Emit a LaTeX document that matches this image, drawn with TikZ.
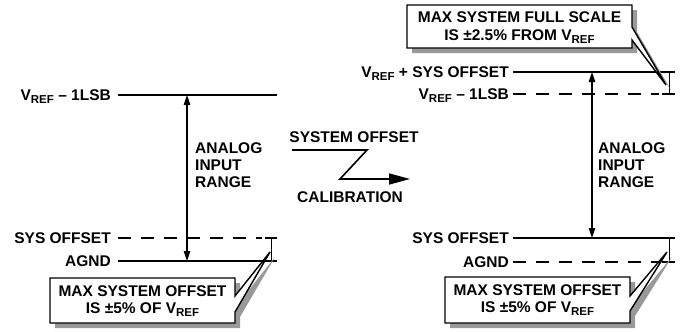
\documentclass[tikz,border=0pt]{standalone}
\usepackage{fontspec}
\setmainfont{Liberation Sans}
\usetikzlibrary{arrows.meta}
\newcommand\refsub{\raisebox{-0.4ex}{\fontsize{11.5}{12}\selectfont REF}}
\begin{document}
\begin{tikzpicture}[x=1pt,y=-1pt,
  font=\fontsize{15.5}{17}\selectfont\bfseries,
  lbl/.style={anchor=base east, inner sep=0pt},
  txt/.style={anchor=west, align=left, inner sep=0pt},
  level/.style={line width=1.9pt},
  dlevel/.style={line width=1.9pt, dash pattern=on 13pt off 10pt},
  capline/.style={line width=1.2pt},
  bracket/.style={line width=1pt},
  rangearrow/.style={line width=1.1pt, {Triangle[length=10pt,width=6.5pt]}-{Triangle[length=10pt,width=6.5pt]}},
  zarrow/.style={line width=1.6pt, -{Triangle[length=21pt,width=11pt]}},
  callout/.style={draw, line width=1.4pt, fill=white, line join=miter},
  shadow/.style={fill=black!40, draw=none},
  boxtext/.style={align=center, inner sep=0pt, font=\fontsize{15.5}{17.5}\selectfont\bfseries}]
\useasboundingbox (0,0) rectangle (683,332);

% ---------------- left diagram ----------------
\node[lbl] (lvref) at (111,100) {V\refsub\ – 1LSB};
\coordinate (lvrefA) at (118,95);
\coordinate (lvrefB) at (277,95);
\draw[level] (lvrefA) -- (lvrefB);

\node[lbl] (lsys) at (111,243) {SYS OFFSET};
\coordinate (lsysA) at (118,238);
\coordinate (lsysB) at (262,238);
\coordinate (lsysC) at (265,238);
\coordinate (lsysD) at (277,238);
\draw[dlevel] (lsysA) -- (lsysB);
\draw[capline] (lsysC) -- (lsysD);

\node[lbl] (lagnd) at (111,266) {AGND};
\coordinate (lagndA) at (118,261);
\coordinate (lagndB) at (277,261);
\draw[level] (lagndA) -- (lagndB);

\coordinate (lbrT) at (271,238);
\coordinate (lbrB) at (271,261);
\draw[bracket] (lbrT) -- (lbrB);

\coordinate (larT) at (187,95);
\coordinate (larB) at (187,261);
\draw[rangearrow] (larT) -- (larB);
\node[txt] (lrange) at (195,165) {ANALOG\\INPUT\\RANGE};

% left callout
\begin{scope}[shift={(5,5)}]
\fill[shadow] (50,278) -- (235,278) -- (235,296) -- (270,252) -- (235,312) -- (235,323) -- (50,323) -- cycle;
\end{scope}
\draw[callout] (50,278) -- (235,278) -- (235,296) -- (270,252) -- (235,312) -- (235,323) -- (50,323) -- cycle;
\node[boxtext] (lbox) at (142.5,301) {MAX SYSTEM OFFSET\\IS ±5\% OF V\refsub};

% ---------------- middle ----------------
\node[inner sep=0pt] (msys) at (354,137) {SYSTEM OFFSET};
\node[inner sep=0pt] (mcal) at (350,197) {CALIBRATION};
\coordinate (z1) at (292,150);
\coordinate (z2) at (367,150);
\coordinate (z3) at (340,179);
\coordinate (z4) at (410,179);
\draw[zarrow, line join=miter] (z1) -- (z2) -- (z3) -- (z4);

% ---------------- right diagram ----------------
\node[lbl] (rvs) at (509,77) {V\refsub\ + SYS OFFSET};
\coordinate (rvsA) at (513,72);
\coordinate (rvsB) at (675,72);
\draw[level] (rvsA) -- (rvsB);

\node[lbl] (rvref) at (509,99) {V\refsub\ – 1LSB};
\coordinate (rvrefA) at (513,94);
\coordinate (rvrefB) at (659,94);
\coordinate (rvrefC) at (662,94);
\coordinate (rvrefD) at (675,94);
\draw[dlevel] (rvrefA) -- (rvrefB);
\draw[capline] (rvrefC) -- (rvrefD);

\node[lbl] (rsys) at (509,243) {SYS OFFSET};
\coordinate (rsysA) at (513,238);
\coordinate (rsysB) at (675,238);
\draw[level] (rsysA) -- (rsysB);

\node[lbl] (ragnd) at (509,267) {AGND};
\coordinate (ragndA) at (513,262);
\coordinate (ragndB) at (659,262);
\coordinate (ragndC) at (662,262);
\coordinate (ragndD) at (675,262);
\draw[dlevel] (ragndA) -- (ragndB);
\draw[capline] (ragndC) -- (ragndD);

\coordinate (rbr1T) at (669,72);
\coordinate (rbr1B) at (669,94);
\draw[bracket] (rbr1T) -- (rbr1B);
\coordinate (rbr2T) at (669,238);
\coordinate (rbr2B) at (669,262);
\draw[bracket] (rbr2T) -- (rbr2B);

\coordinate (rarT) at (592,72);
\coordinate (rarB) at (592,238);
\draw[rangearrow] (rarT) -- (rarB);
\node[txt] (rrange) at (598,165) {ANALOG\\INPUT\\RANGE};

% top callout
\begin{scope}[shift={(5,5)}]
\fill[shadow] (407,5) -- (632,5) -- (632,27) -- (666,85) -- (632,40) -- (632,48) -- (407,48) -- cycle;
\end{scope}
\draw[callout] (407,5) -- (632,5) -- (632,27) -- (666,85) -- (632,40) -- (632,48) -- (407,48) -- cycle;
\node[boxtext] (tbox) at (519.5,27.5) {MAX SYSTEM FULL SCALE\\IS ±2.5\% FROM V\refsub};

% bottom right callout
\begin{scope}[shift={(5,5)}]
\fill[shadow] (445,277) -- (630,277) -- (630,296) -- (667,252) -- (630,311) -- (630,323) -- (445,323) -- cycle;
\end{scope}
\draw[callout] (445,277) -- (630,277) -- (630,296) -- (667,252) -- (630,311) -- (630,323) -- (445,323) -- cycle;
\node[boxtext] (rbox) at (537.5,300) {MAX SYSTEM OFFSET\\IS ±5\% OF V\refsub};
\end{tikzpicture}
\end{document}
